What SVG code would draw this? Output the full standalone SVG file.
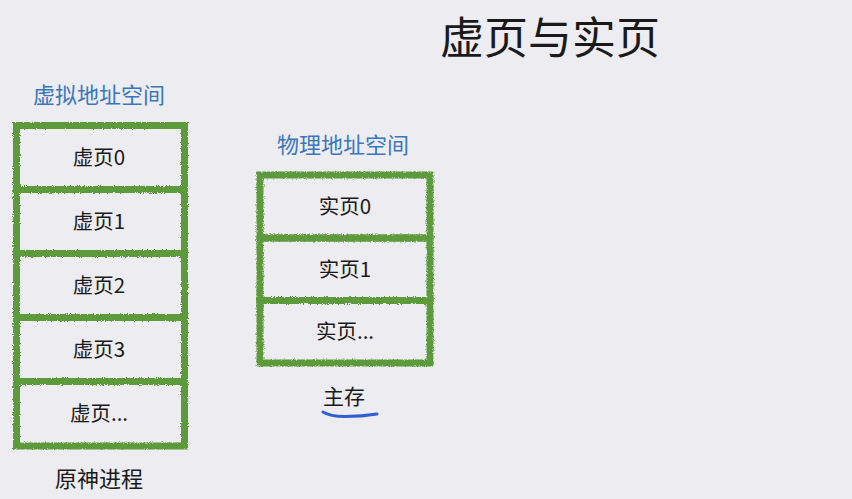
<svg xmlns="http://www.w3.org/2000/svg" width="852" height="499" viewBox="0 0 852 499">
  <defs>
    <filter id="rough" x="-5%" y="-5%" width="110%" height="110%">
      <feTurbulence type="fractalNoise" baseFrequency="0.9" numOctaves="2" seed="3" result="n"/>
      <feDisplacementMap in="SourceGraphic" in2="n" scale="3.5" xChannelSelector="R" yChannelSelector="G"/>
    </filter>
    <style>
      .box { fill: none; stroke: #5b9a3b; stroke-width: 7; }
      .t { font-family: "Noto Sans CJK SC", "Noto Sans", sans-serif; fill: #1a1a1a; text-anchor: middle; }
      .bt { font-size: 20.5px; }
      .lbl { font-family: "Noto Sans CJK SC", "Noto Sans", sans-serif; fill: #3a76bd; text-anchor: middle; font-size: 22px; }
    </style>
  </defs>
  <rect width="852" height="499" fill="#edecf1"/>

  <g id="title">
    <text class="t" x="550" y="54" font-size="44">虚页与实页</text>
  </g>

  <g id="virtual-label"><text class="lbl" x="99" y="103">虚拟地址空间</text></g>
  <g id="physical-label"><text class="lbl" x="343" y="153">物理地址空间</text></g>

  <g id="vpage0"><rect class="box" filter="url(#rough)" x="16.5" y="125.5" width="168" height="64"/><text class="t bt" x="99" y="165">虚页0</text></g>
  <g id="vpage1"><rect class="box" filter="url(#rough)" x="16.5" y="189.5" width="168" height="64"/><text class="t bt" x="99" y="229">虚页1</text></g>
  <g id="vpage2"><rect class="box" filter="url(#rough)" x="16.5" y="253.5" width="168" height="64"/><text class="t bt" x="99" y="293">虚页2</text></g>
  <g id="vpage3"><rect class="box" filter="url(#rough)" x="16.5" y="317.5" width="168" height="64"/><text class="t bt" x="99" y="357">虚页3</text></g>
  <g id="vpage4"><rect class="box" filter="url(#rough)" x="16.5" y="381.5" width="168" height="64.5"/><text class="t bt" x="99" y="421">虚页...</text></g>

  <g id="ppage0"><rect class="box" filter="url(#rough)" x="260" y="175" width="170" height="63"/><text class="t bt" x="345" y="214">实页0</text></g>
  <g id="ppage1"><rect class="box" filter="url(#rough)" x="260" y="238" width="170" height="62.5"/><text class="t bt" x="345" y="276.5">实页1</text></g>
  <g id="ppage2"><rect class="box" filter="url(#rough)" x="260" y="300.5" width="170" height="62.5"/><text class="t bt" x="345" y="339">实页...</text></g>

  <g id="process-label"><text class="t" x="99" y="487" font-size="22">原神进程</text></g>
  <g id="memory-label">
    <text class="t" x="344" y="404" font-size="21">主存</text>
    <path d="M323,412 Q330,416.5 345,416.5 Q362,416.5 377,414" fill="none" stroke="#2f5fd0" stroke-width="3" stroke-linecap="round"/>
  </g>

  <g id="connectors"></g>
</svg>
